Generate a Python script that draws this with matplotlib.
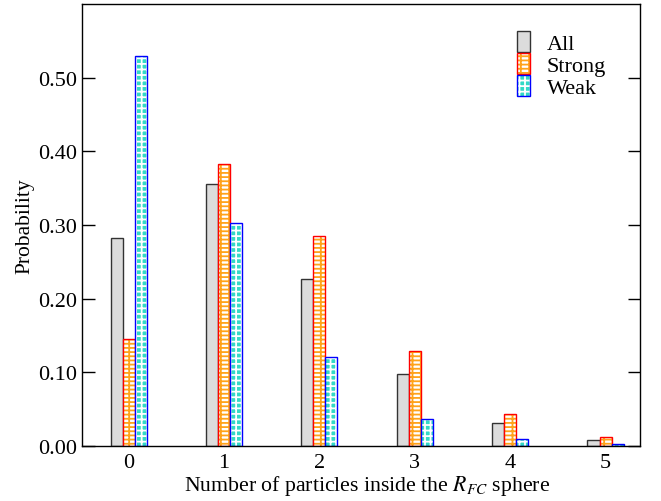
import numpy as np
import matplotlib
matplotlib.use("Agg")
import matplotlib.pyplot as plt
from matplotlib.patches import Patch

plt.rcParams['font.family'] = ['Liberation Serif', 'DejaVu Serif']
plt.rcParams['mathtext.fontset'] = 'stix'

counts = [0, 1, 2, 3, 4, 5]
prob_all = [0.282, 0.355, 0.227, 0.097, 0.031, 0.008]
prob_strong = [0.145, 0.383, 0.285, 0.129, 0.043, 0.012]
prob_weak = [0.530, 0.303, 0.120, 0.037, 0.009, 0.002]

x = np.array(counts)
w = 0.126

fig = plt.figure(figsize=(6.61, 5.02), dpi=100)
ax = fig.add_axes([0.124, 0.110, 0.844, 0.880])

# All: plain grey
ax.bar(x - w, prob_all, w, color='#dcdcdc', edgecolor='#333333', linewidth=1.0)

# Strong: orange brick-like lines on white, red outline
plt.rcParams['hatch.linewidth'] = 1.3
ax.bar(x, prob_strong, w, color='white', edgecolor='#ffa31a', hatch='----||', linewidth=0)
strong_fill = Patch(facecolor='white', edgecolor='#ffa31a', hatch='----||', linewidth=0)
ax.bar(x, prob_strong, w, color='none', edgecolor='red', linewidth=1.0)

# Weak: turquoise with white grid (checker-like), blue outline
plt.rcParams['hatch.linewidth'] = 1.3
ax.bar(x + w, prob_weak, w, color='#33d9c6', edgecolor='white', hatch='+++', linewidth=0)
weak_fill = Patch(facecolor='#33d9c6', edgecolor='white', hatch='+++', linewidth=0)
ax.bar(x + w, prob_weak, w, color='none', edgecolor='blue', linewidth=1.0)

handles = [
    Patch(facecolor='#dcdcdc', edgecolor='#333333', linewidth=1.0),
    (strong_fill, Patch(facecolor='none', edgecolor='red', linewidth=1.0)),
    (weak_fill, Patch(facecolor='none', edgecolor='blue', linewidth=1.0)),
]
ax.legend(handles, ['All', 'Strong', 'Weak'], loc='upper right',
          bbox_to_anchor=(0.975, 0.985), frameon=False,
          fontsize=16, handlelength=0.6, handleheight=1.1, handletextpad=0.75,
          labelspacing=-0.05)

ax.set_xlim(-0.49, 5.36)
ax.set_ylim(0, 0.6)
ax.set_xticks(counts)
ax.set_yticks([0.0, 0.1, 0.2, 0.3, 0.4, 0.5])
ax.set_yticklabels(['0.00', '0.10', '0.20', '0.30', '0.40', '0.50'])
ax.tick_params(axis='y', direction='in', length=9, width=1, left=True, right=True, labelsize=16)
ax.tick_params(axis='x', length=0, labelsize=16, pad=5)
for s in ax.spines.values():
    s.set_linewidth(1.0)

ax.set_ylabel('Probability', fontsize=15.5)
ax.yaxis.set_label_coords(-0.085, 0.5)
ax.set_xlabel('Number of particles inside the $R_{FC}$ sphere', fontsize=15.7)
ax.xaxis.set_label_coords(0.511, -0.062)

fig.savefig('out.png', dpi=100)
